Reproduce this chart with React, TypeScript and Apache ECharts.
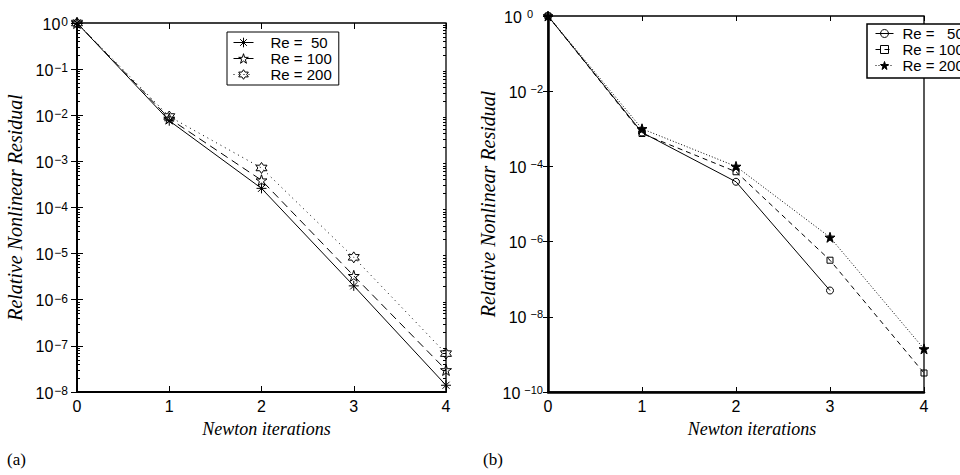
import { useEffect, useRef } from 'react';
import * as echarts from 'echarts';

// Newton iteration index
const iterations = [0, 1, 2, 3, 4];

// (a) relative nonlinear residual per Newton step
const resA50 = [1, 7.6e-3, 2.6e-4, 2.0e-6, 1.4e-8];
const resA100 = [1, 8.5e-3, 3.9e-4, 3.3e-6, 3.0e-8];
const resA200 = [1, 9.4e-3, 7.2e-4, 8.3e-6, 6.8e-8];

// (b) relative nonlinear residual per Newton step
const resB50 = [1, 8.0e-4, 3.9e-5, 5.0e-8];
const resB100 = [1, 7.5e-4, 7.2e-5, 3.2e-7, 3.2e-10];
const resB200 = [1, 1.0e-3, 1.0e-4, 1.3e-6, 1.4e-9];

const legendA = ['Re =  50', 'Re = 100', 'Re = 200'];
const legendB = ['Re =   50', 'Re = 100', 'Re = 200'];

const xTicks = [0, 1, 2, 3, 4];
const decadesA = [1e-8, 1e-7, 1e-6, 1e-5, 1e-4, 1e-3, 1e-2, 1e-1, 1];
const decadesB = [1e-10, 1e-8, 1e-6, 1e-4, 1e-2, 1];

const BLACK = '#000';
const SANS = '"Liberation Sans", Arial, Helvetica, sans-serif';
const SERIF = '"Liberation Serif", "Times New Roman", serif';

// log-axis minor ticks at 2..9 within each decade
const minorTicks = (decades: number[]) => {
  const out: number[] = [];
  for (let i = 0; i < decades.length - 1; i++) {
    for (let k = 2; k <= 9; k++) out.push(k * decades[i]);
  }
  return out;
};

// outline of an n-pointed star as an SVG path
const starPath = (n: number, inner: number) => {
  const pts: string[] = [];
  for (let i = 0; i < 2 * n; i++) {
    const r = i % 2 === 0 ? 10 : 10 * inner;
    const a = -Math.PI / 2 + (i * Math.PI) / n;
    pts.push(`${(10 + r * Math.cos(a)).toFixed(3)},${(10 + r * Math.sin(a)).toFixed(3)}`);
  }
  return 'path://M' + pts.join('L') + 'Z';
};

const ASTERISK = 'path://M0,5L10,5M5,0L5,10M1.5,1.5L8.5,8.5M1.5,8.5L8.5,1.5';
const PENTAGRAM = starPath(5, 0.382);
const HEXAGRAM = starPath(6, 0.577);

const toPoints = (ys: number[]) => ys.map((y, i) => [iterations[i], y]);

const expLabel = (v: number, zeroStyle: string) => {
  const e = Math.round(Math.log10(v));
  if (e === 0) return `{b|10}{${zeroStyle}|0}`;
  return `{b|10}{s|\u2212${-e}}`;
};

const baseStyle = { fontSize: 16, fontFamily: SANS, color: BLACK, verticalAlign: 'bottom', lineHeight: 18 };

export default function App() {
  const ref = useRef<HTMLDivElement>(null);

  useEffect(() => {
    if (!ref.current) return;
    const chart = echarts.init(ref.current, undefined, { renderer: 'svg' });

    const hollow = { color: 'rgba(0,0,0,0)', borderColor: BLACK, borderWidth: 1 };
    const filled = { color: BLACK, borderColor: BLACK, borderWidth: 1 };

    const xAxisCommon = {
      type: 'value' as const,
      min: 0,
      max: 4,
      interval: 1,
      splitLine: { show: false },
    };

    const xTitle = {
      fontFamily: SERIF,
      fontStyle: 'italic',
      fontSize: 18,
      color: BLACK,
    };

    const legendCommon = {
      orient: 'vertical',
      backgroundColor: '#fff',
      borderColor: BLACK,
      selectedMode: false,
      itemStyle: { borderWidth: 1 },
      lineStyle: { width: 1 },
      formatter: (n: string) => n.slice(2),
    };

    const option: any = {
      animation: false,
      backgroundColor: '#fff',
      grid: [
        { left: 77, top: 23, width: 369, height: 369, show: true, borderColor: BLACK, borderWidth: 1.3, backgroundColor: 'transparent', outerBoundsMode: 'none' },
        { left: 548, top: 16, width: 376, height: 376, show: true, borderColor: BLACK, borderWidth: 1.3, backgroundColor: 'transparent', outerBoundsMode: 'none' },
      ],
      xAxis: [
        {
          ...xAxisCommon,
          gridIndex: 0,
          position: 'bottom',
          axisLine: { show: true, onZero: false, lineStyle: { color: BLACK, width: 2 } },
          axisTick: { show: true, inside: true, length: 6, lineStyle: { color: BLACK } },
          axisLabel: { margin: 6, fontSize: 16, fontFamily: SANS, color: BLACK, customValues: xTicks },
          name: 'Newton iterations',
          nameLocation: 'middle',
          nameGap: 28,
          nameTextStyle: { ...xTitle, padding: [0, 0, 0, 10] },
        },
        {
          ...xAxisCommon,
          gridIndex: 0,
          position: 'top',
          axisLine: { show: false },
          axisTick: { show: true, inside: true, length: 6, lineStyle: { color: BLACK } },
          axisLabel: { show: false },
        },
        {
          ...xAxisCommon,
          gridIndex: 1,
          position: 'bottom',
          axisLine: { show: true, onZero: false, lineStyle: { color: BLACK, width: 2.5 } },
          axisTick: { show: true, inside: true, length: 5, lineStyle: { color: BLACK } },
          axisLabel: { margin: 6, fontSize: 16, fontFamily: SANS, color: BLACK, customValues: xTicks },
          name: 'Newton iterations',
          nameLocation: 'middle',
          nameGap: 28,
          nameTextStyle: { ...xTitle, padding: [0, 0, 0, 32] },
        },
        {
          ...xAxisCommon,
          gridIndex: 1,
          position: 'top',
          axisLine: { show: false },
          axisTick: { show: true, inside: true, length: 5, lineStyle: { color: BLACK } },
          axisLabel: { show: false },
        },
      ],
      yAxis: [
        {
          type: 'log',
          logBase: 10,
          gridIndex: 0,
          position: 'left',
          min: 1e-8,
          max: 1,
          axisLine: { show: true, onZero: false, lineStyle: { color: BLACK, width: 2 } },
          axisTick: { show: true, inside: true, length: 6, customValues: decadesA, lineStyle: { color: BLACK } },
          splitLine: { show: false },
          axisLabel: {
            margin: 9,
            customValues: decadesA,
            formatter: (v: number) => expLabel(v, 's'),
            rich: {
              b: baseStyle,
              s: { fontSize: 12, fontFamily: SANS, color: BLACK, verticalAlign: 'bottom', lineHeight: 18, padding: [0, 0, 4, 1] },
            },
          },
          name: 'Relative Nonlinear Residual',
          nameLocation: 'middle',
          nameGap: 52,
          nameRotate: 90,
          nameTextStyle: { fontFamily: SERIF, fontStyle: 'italic', fontSize: 20, color: BLACK },
        },
        {
          type: 'log',
          logBase: 10,
          gridIndex: 0,
          position: 'left',
          min: 1e-8,
          max: 1,
          axisLine: { show: false },
          axisTick: { show: true, inside: true, length: 3, customValues: minorTicks(decadesA), lineStyle: { color: BLACK } },
          axisLabel: { show: false },
          splitLine: { show: false },
        },
        {
          type: 'log',
          logBase: 10,
          gridIndex: 0,
          position: 'right',
          min: 1e-8,
          max: 1,
          axisLine: { show: false },
          axisTick: { show: true, inside: true, length: 6, customValues: decadesA, lineStyle: { color: BLACK } },
          axisLabel: { show: false },
          splitLine: { show: false },
        },
        {
          type: 'log',
          logBase: 10,
          gridIndex: 0,
          position: 'right',
          min: 1e-8,
          max: 1,
          axisLine: { show: false },
          axisTick: { show: true, inside: true, length: 3, customValues: minorTicks(decadesA), lineStyle: { color: BLACK } },
          axisLabel: { show: false },
          splitLine: { show: false },
        },
        {
          type: 'log',
          logBase: 10,
          gridIndex: 1,
          position: 'left',
          min: 1e-10,
          max: 1,
          axisLine: { show: true, onZero: false, lineStyle: { color: BLACK, width: 2.5 } },
          axisTick: { show: true, inside: true, length: 5, customValues: decadesB, lineStyle: { color: BLACK } },
          splitLine: { show: false },
          axisLabel: {
            margin: 5,
            customValues: decadesB,
            formatter: (v: number) => expLabel(v, 'z'),
            rich: {
              b: baseStyle,
              s: { fontSize: 11, fontFamily: SANS, color: BLACK, verticalAlign: 'bottom', lineHeight: 18, padding: [0, 0, 6, 4] },
              z: { fontSize: 11, fontFamily: SANS, color: BLACK, verticalAlign: 'bottom', lineHeight: 18, padding: [0, 10, 6, 5] },
            },
          },
          name: 'Relative Nonlinear Residual',
          nameLocation: 'middle',
          nameGap: 50,
          nameRotate: 90,
          nameTextStyle: { fontFamily: SERIF, fontStyle: 'italic', fontSize: 20, color: BLACK },
        },
        {
          type: 'log',
          logBase: 10,
          gridIndex: 1,
          position: 'right',
          min: 1e-10,
          max: 1,
          axisLine: { show: false },
          axisTick: { show: true, inside: true, length: 5, customValues: decadesB, lineStyle: { color: BLACK } },
          axisLabel: { show: false },
          splitLine: { show: false },
        },
      ],
      legend: [
        {
          ...legendCommon,
          data: legendA.map((n) => 'a:' + n),
          left: 227,
          top: 32,
          padding: [3, 7, 3, 6],
          itemWidth: 20,
          itemHeight: 12,
          itemGap: 1,
          borderWidth: 1,
          textStyle: { fontSize: 15, fontFamily: SANS, color: BLACK, lineHeight: 15, padding: [0, 0, 0, 12] },
        },
        {
          ...legendCommon,
          data: legendB.map((n) => 'b:' + n),
          left: 867,
          top: 24,
          padding: [2, 6, 5, 8],
          itemWidth: 18,
          itemHeight: 10,
          itemGap: 1,
          borderWidth: 1.5,
          textStyle: { fontSize: 15, fontFamily: SANS, color: BLACK, lineHeight: 14, padding: [0, 0, 0, 4] },
        },
      ],
      series: [
        {
          name: 'a:' + legendA[0],
          type: 'line',
          xAxisIndex: 0,
          yAxisIndex: 0,
          data: toPoints(resA50),
          symbol: ASTERISK,
          symbolSize: 10,
          clip: false,
          itemStyle: hollow,
          lineStyle: { color: BLACK, width: 1, type: 'solid' },
        },
        {
          name: 'a:' + legendA[1],
          type: 'line',
          xAxisIndex: 0,
          yAxisIndex: 0,
          data: toPoints(resA100),
          symbol: PENTAGRAM,
          symbolSize: 11,
          clip: false,
          itemStyle: hollow,
          lineStyle: { color: BLACK, width: 1, type: [8, 5] },
        },
        {
          name: 'a:' + legendA[2],
          type: 'line',
          xAxisIndex: 0,
          yAxisIndex: 0,
          data: toPoints(resA200),
          symbol: HEXAGRAM,
          symbolSize: 11,
          clip: false,
          itemStyle: hollow,
          lineStyle: { color: BLACK, width: 1, type: [1, 4] },
        },
        {
          name: 'b:' + legendB[0],
          type: 'line',
          xAxisIndex: 2,
          yAxisIndex: 4,
          data: toPoints(resB50),
          symbol: 'circle',
          symbolSize: 7,
          clip: false,
          itemStyle: hollow,
          lineStyle: { color: BLACK, width: 1, type: 'solid' },
        },
        {
          name: 'b:' + legendB[1],
          type: 'line',
          xAxisIndex: 2,
          yAxisIndex: 4,
          data: toPoints(resB100),
          symbol: 'rect',
          symbolSize: 6,
          clip: false,
          itemStyle: hollow,
          lineStyle: { color: BLACK, width: 1, type: [5, 4] },
        },
        {
          name: 'b:' + legendB[2],
          type: 'line',
          xAxisIndex: 2,
          yAxisIndex: 4,
          data: toPoints(resB200),
          symbol: PENTAGRAM,
          symbolSize: 10,
          clip: false,
          itemStyle: filled,
          lineStyle: { color: BLACK, width: 1, type: [1, 2] },
        },
      ],
      graphic: [
        { type: 'text', left: 7, top: 451, style: { text: '(a)', fontSize: 17, fontFamily: SERIF, fill: BLACK } },
        { type: 'text', left: 483, top: 451, style: { text: '(b)', fontSize: 17, fontFamily: SERIF, fill: BLACK } },
      ],
    };

    chart.setOption(option);
    return () => chart.dispose();
  }, []);

  return (
    <div
      ref={ref}
      style={{ position: 'absolute', left: 0, top: 0, width: 960, height: 475, background: '#fff' }}
    />
  );
}
